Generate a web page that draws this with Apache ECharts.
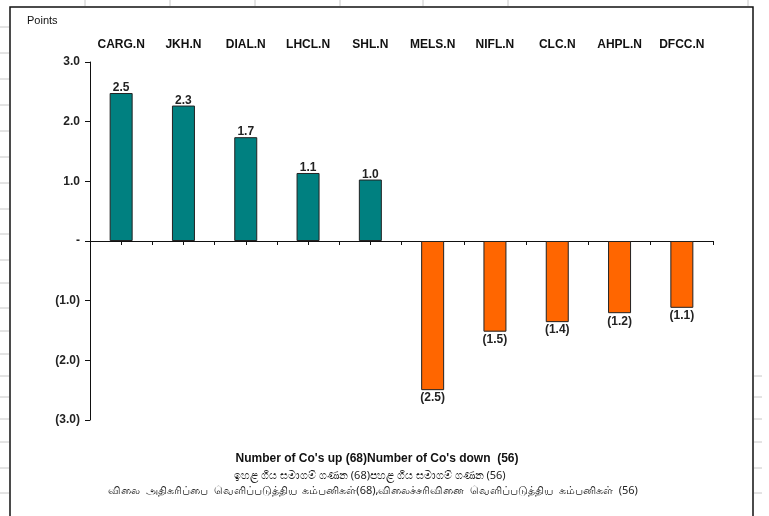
<!DOCTYPE html>
<html>
<head>
<meta charset="utf-8">
<script src="https://cdn.jsdelivr.net/npm/echarts@6/dist/echarts.min.js"></script>
<style>
  html, body { margin: 0; padding: 0; background: #fff; }
  #main { width: 769px; height: 516px; }
</style>
</head>
<body>
<div id="main"></div>
<script>
// companies and their point change
const categories = ['CARG.N', 'JKH.N', 'DIAL.N', 'LHCL.N', 'SHL.N', 'MELS.N', 'NIFL.N', 'CLC.N', 'AHPL.N', 'DFCC.N'];
const values = [2.48, 2.27, 1.74, 1.14, 1.03, -2.50, -1.52, -1.36, -1.21, -1.12];
const yTicks = [-3, -2, -1, 0, 1, 2, 3];
const footerLines = [
  "Number of Co's up (68)Number of Co's down  (56)",
  'ඉහළ ගිය සමාගම් ගණන (68)පහළ ගිය සමාගම් ගණන (56)',
  'விலை  அதிகரிப்பை  வெளிப்படுத்திய  கம்பனிகள்(68),விலைச்சரிவினை  வெளிப்படுத்திய  கம்பனிகள்  (56)'
];

function fmt(v) {
  if (Math.abs(v) < 1e-9) return '-';
  const s = Math.abs(v).toFixed(1);
  return v < 0 ? '(' + s + ')' : s;
}

// little grey sheet ticks round the frame
const deco = [];
[27, 53, 79, 105, 131, 157, 183, 209, 234, 260, 283, 308, 331, 354, 376, 397, 419, 442, 468, 493].forEach(y => {
  deco.push({ type: 'line', shape: { x1: 0, y1: y, x2: 9, y2: y }, style: { stroke: '#c8c8c8', lineWidth: 1 } });
});
[376, 397, 419, 442, 468, 493].forEach(y => {
  deco.push({ type: 'line', shape: { x1: 754, y1: y, x2: 762, y2: y }, style: { stroke: '#c8c8c8', lineWidth: 1 } });
});
[85, 170, 255, 340, 423, 508, 748].forEach(x => {
  deco.push({ type: 'line', shape: { x1: x, y1: 0, x2: x, y2: 6 }, style: { stroke: '#c8c8c8', lineWidth: 1 } });
});

var myChart = echarts.init(document.getElementById('main'));
var yBase = {
  type: 'value', min: yTicks[0], max: yTicks[yTicks.length - 1], interval: 1,
  splitLine: { show: false }
};
var option = {
  animation: false,
  textStyle: { fontFamily: 'Liberation Sans, Arial, sans-serif' },
  grid: { left: 90, right: 56, top: 62, bottom: 96 },
  graphic: deco.concat([
    { type: 'rect', shape: { x: 10, y: 7, width: 743, height: 560 }, style: { fill: 'none', stroke: '#111', lineWidth: 1.5 } },
    { type: 'text', left: 27, top: 15, style: { text: 'Points', font: '11px Liberation Sans, Arial', fill: '#111' } },
    { type: 'text', x: 377, y: 459, style: { text: footerLines[0], font: 'bold 12px Liberation Sans, Arial', fill: '#111', align: 'center', verticalAlign: 'middle' } },
    { type: 'text', x: 370, y: 476, style: { text: footerLines[1], font: '11px Noto Sans, Liberation Sans, Arial', fill: '#222', align: 'center', verticalAlign: 'middle' } },
    { type: 'text', x: 373, y: 491, style: { text: footerLines[2], font: '11px Noto Sans, Liberation Sans, Arial', fill: '#222', align: 'center', verticalAlign: 'middle' } }
  ]),
  xAxis: [
    {
      type: 'category', data: categories, position: 'top',
      axisLine: { show: false, onZero: false }, axisTick: { show: false },
      axisLabel: { margin: 11, fontSize: 12, fontWeight: 'bold', color: '#111' }
    },
    {
      type: 'category', data: categories, position: 'bottom',
      axisLine: { onZero: true, onZeroAxisIndex: 0, lineStyle: { color: '#111', width: 1 } },
      axisTick: { show: true, length: 4, lineStyle: { color: '#111' } },
      axisLabel: { show: false }
    },
    {
      type: 'category', data: categories, position: 'bottom',
      axisLine: { show: false, onZero: true, onZeroAxisIndex: 1 },
      axisTick: { show: true, alignWithLabel: true, length: 4, lineStyle: { color: '#111' } },
      axisLabel: { show: false }
    }
  ],
  yAxis: [
    Object.assign({}, yBase, {
      axisLine: { show: true, lineStyle: { color: '#111', width: 1 } },
      axisTick: { show: true, length: 5, lineStyle: { color: '#111' } },
      axisLabel: { margin: 10, fontSize: 12, fontWeight: 'bold', color: '#222', formatter: fmt }
    }),
    Object.assign({}, yBase, {
      position: 'left',
      axisLine: { show: false }, axisTick: { show: false }, axisLabel: { show: false }
    })
  ],
  series: [
    {
      type: 'bar',
      xAxisIndex: 0,
      yAxisIndex: 0,
      barWidth: 23,
      data: values.map(v => ({
        value: v,
        itemStyle: { color: v >= 0 ? '#008080' : '#FF6600' },
        label: { position: v >= 0 ? 'top' : 'bottom', distance: v >= 0 ? -1 : 2 }
      })),
      itemStyle: { borderColor: '#222', borderWidth: 1 },
      label: {
        show: true, fontSize: 12, fontWeight: 'bold', color: '#222',
        formatter: p => fmt(Math.round(p.value * 10) / 10)
      }
    }
  ]
};
option && myChart.setOption(option);
</script>
</body>
</html>
